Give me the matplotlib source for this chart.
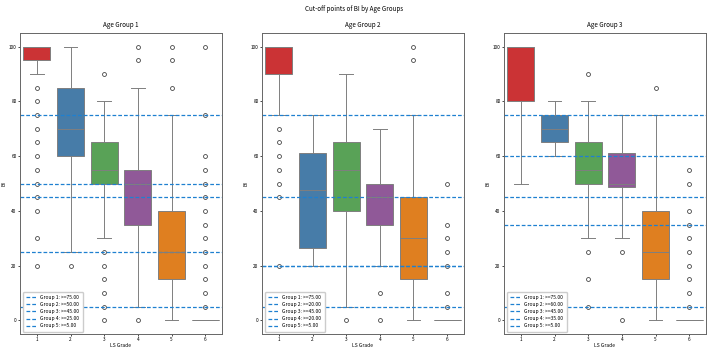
import matplotlib
matplotlib.use("Agg")
import matplotlib.pyplot as plt
from matplotlib.colors import to_rgb
import colorsys

plt.rcParams['font.family'] = ['Noto Sans CJK SC', 'DejaVu Sans']

# 데이터
grades = [1, 2, 3, 4, 5, 6]
age_groups = ["Age Group 1", "Age Group 2", "Age Group 3"]

# box stats per age group: q1, median, q3, lower whisker, upper whisker
q1_g1 = [95, 60, 50, 35, 15, 0]
med_g1 = [100, 70, 55, 50, 25, 0]
q3_g1 = [100, 85, 65, 55, 40, 0]
lo_g1 = [90, 25, 30, 5, 0, 0]
hi_g1 = [100, 100, 80, 85, 75, 0]
fl_g1 = [[85, 80, 75, 70, 65, 60, 55, 50, 45, 40, 30, 20],
         [20],
         [90, 25, 20, 15, 10, 5, 0],
         [100, 95, 0],
         [100, 95, 85],
         [100, 75, 60, 55, 50, 45, 40, 35, 30, 25, 20, 15, 10, 5]]

q1_g2 = [90, 26.25, 40, 35, 15, 0]
med_g2 = [100, 47.5, 55, 45, 30, 0]
q3_g2 = [100, 61.25, 65, 50, 45, 0]
lo_g2 = [75, 20, 5, 20, 0, 0]
hi_g2 = [100, 75, 90, 70, 75, 0]
fl_g2 = [[70, 65, 60, 55, 50, 45, 20],
         [],
         [0],
         [10, 0],
         [100, 95],
         [50, 35, 30, 25, 20, 10, 5]]

q1_g3 = [80, 65, 50, 48.75, 15, 0]
med_g3 = [100, 70, 55, 50, 25, 0]
q3_g3 = [100, 75, 65, 61.25, 40, 0]
lo_g3 = [50, 60, 30, 30, 0, 0]
hi_g3 = [100, 80, 80, 75, 75, 0]
fl_g3 = [[],
         [],
         [90, 25, 15, 5],
         [25, 0],
         [85],
         [55, 50, 40, 35, 30, 25, 20, 15, 10, 5]]

# 컷오프
cutoffs_g1 = [75, 50, 45, 25, 5]
cutoffs_g2 = [75, 20, 45, 20, 5]
cutoffs_g3 = [75, 60, 45, 35, 5]

all_stats = [
    (q1_g1, med_g1, q3_g1, lo_g1, hi_g1, fl_g1, cutoffs_g1),
    (q1_g2, med_g2, q3_g2, lo_g2, hi_g2, fl_g2, cutoffs_g2),
    (q1_g3, med_g3, q3_g3, lo_g3, hi_g3, fl_g3, cutoffs_g3),
]

set1 = ["#e41a1c", "#377eb8", "#4daf4a", "#984ea3", "#ff7f00", "#ffff33"]


def desat(c, s=0.75):
    h, l, sat = colorsys.rgb_to_hls(*to_rgb(c))
    return colorsys.hls_to_rgb(h, l, sat * s)


box_colors = [desat(c) for c in set1]
line_gray = "#7f7f7f"
cut_color = "#1f80d0"

fig = plt.figure(figsize=(7.08, 3.5), dpi=100)
fig.suptitle("Cut-off points of BI by Age Groups", fontsize=4.5, y=0.985)

rects = [(20, 202), (262, 202), (504, 202)]
for i, (name, st) in enumerate(zip(age_groups, all_stats)):
    q1, med, q3, lo, hi, fl, cuts = st
    x0, w = rects[i]
    ax = fig.add_axes([x0 / 708, 16 / 350, w / 708, 301 / 350])

    stats = []
    for k in range(len(grades)):
        stats.append(dict(q1=q1[k], med=med[k], q3=q3[k], whislo=lo[k],
                          whishi=hi[k], fliers=fl[k], label=str(grades[k])))
    bp = ax.bxp(stats, positions=range(len(grades)), widths=0.8, capwidths=0.4,
                patch_artist=True,
                boxprops=dict(edgecolor=line_gray, linewidth=0.7),
                medianprops=dict(color=line_gray, linewidth=0.7),
                whiskerprops=dict(color=line_gray, linewidth=0.7),
                capprops=dict(color=line_gray, linewidth=0.7),
                flierprops=dict(marker='o', markersize=2.8, markerfacecolor='none',
                                markeredgecolor='#444444', markeredgewidth=0.6))
    for patch, c in zip(bp['boxes'], box_colors):
        patch.set_facecolor(c)

    for j, c in enumerate(cuts):
        ax.axhline(c, color=cut_color, linestyle=(0, (3, 1.6)), linewidth=0.9,
                   label="Group %d: >=%.2f" % (j + 1, c))

    ax.set_xlim(-0.5, 5.5)
    ax.set_ylim(-5, 105)
    ax.set_yticks([0, 20, 40, 60, 80, 100])
    ax.set_title(name, fontsize=4.5, pad=4)
    ax.set_xlabel("LS Grade", fontsize=3.6, labelpad=0.5)
    ax.set_ylabel("BI", fontsize=3.6, labelpad=2)
    ax.tick_params(labelsize=3.4, length=1.5, width=0.5, pad=1)
    for sp in ax.spines.values():
        sp.set_color("#666666")
        sp.set_linewidth(0.7)
    ax.legend(loc='lower left', fontsize=3.6, handlelength=2.2, borderpad=0.6,
              labelspacing=0.45, framealpha=1, edgecolor='#cccccc', fancybox=True)

fig.savefig("out.png", dpi=100)
